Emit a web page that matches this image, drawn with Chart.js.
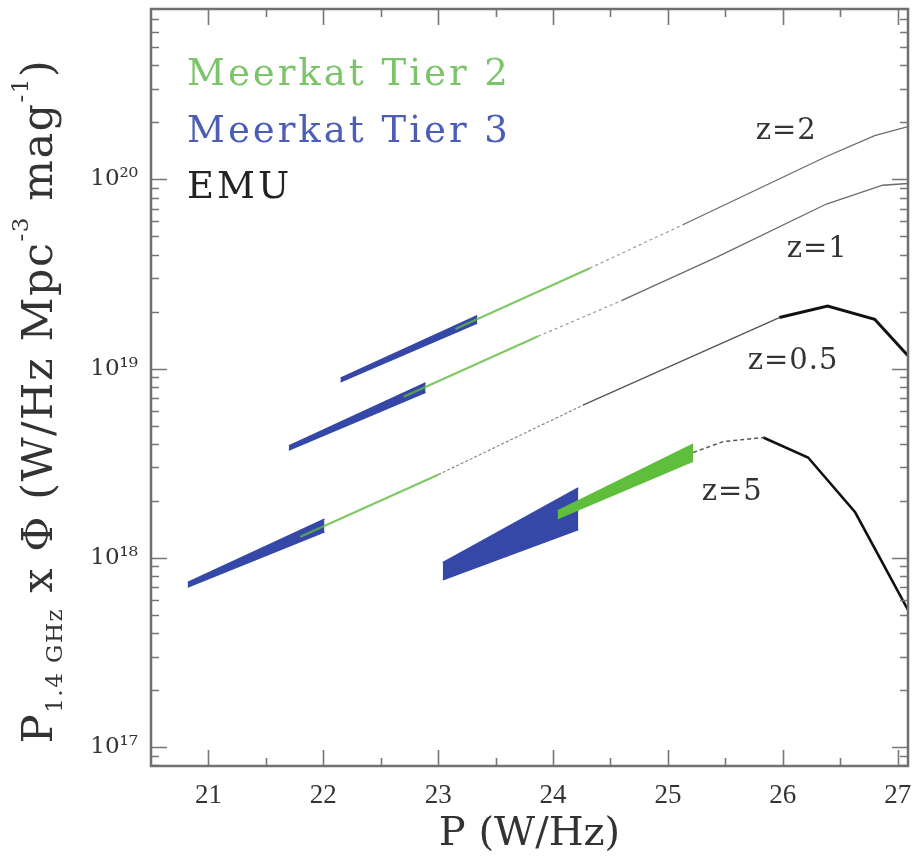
<!DOCTYPE html>
<html lang="en">
<head>
<meta charset="UTF-8" />
<title>P x Phi vs P</title>
<style>
  html, body { margin: 0; padding: 0; background: #fff; }
  canvas { display: block; }
</style>
</head>
<body>
<canvas id="myChart" width="913" height="867"></canvas>
<script src="https://cdn.jsdelivr.net/npm/chart.js@4/dist/chart.umd.min.js"></script>
<script>
// axis ticks
const xTicks = [21, 22, 23, 24, 25, 26, 27];
const yTicks = [1e17, 1e18, 1e19, 1e20];

// z = 2
const z2T3P = [22.15, 23.34];
const z2T3Lo = [8.5e18, 1.74e19];
const z2T3Hi = [8.9e18, 1.9e19];
const z2T2P = [23.15, 24.32];
const z2T2 = [1.62e19, 3.39e19];
const z2DashP = [24.32, 25.13];
const z2Dash = [3.39e19, 5.75e19];
const z2EmuP = [25.13, 26.38, 26.8, 27.09];
const z2Emu = [5.75e19, 1.32e20, 1.7e20, 1.9e20];

// z = 1
const z1T3P = [21.7, 22.89];
const z1T3Lo = [3.71e18, 7.5e18];
const z1T3Hi = [3.9e18, 8.4e18];
const z1T2P = [22.7, 23.87];
const z1T2 = [7.1e18, 1.48e19];
const z1DashP = [23.87, 24.6];
const z1Dash = [1.48e19, 2.29e19];
const z1EmuP = [24.6, 25.43, 26.38, 26.87, 27.09];
const z1Emu = [2.29e19, 3.89e19, 7.4e19, 9.3e19, 9.5e19];

// z = 0.5
const z05T3P = [20.82, 22.01];
const z05T3Lo = [7.0e17, 1.37e18];
const z05T3Hi = [7.4e17, 1.6e18];
const z05T2P = [21.8, 23.0];
const z05T2 = [1.29e18, 2.75e18];
const z05DashP = [23.0, 24.26];
const z05Dash = [2.75e18, 6.4e18];
const z05EmuP = [24.26, 25.97];
const z05Emu = [6.4e18, 1.86e19];
const z05BoldP = [25.97, 26.39, 26.8, 27.09];
const z05Bold = [1.86e19, 2.14e19, 1.82e19, 1.17e19];

// z = 5
const z5T3P = [23.04, 24.22];
const z5T3Lo = [7.66e17, 1.41e18];
const z5T3Hi = [9.42e17, 2.34e18];
const z5T2P = [24.04, 25.22];
const z5T2Lo = [1.61e18, 3.24e18];
const z5T2Hi = [1.77e18, 3.99e18];
const z5DashP = [25.22, 25.48, 25.83];
const z5Dash = [3.6e18, 4.11e18, 4.32e18];
const z5EmuP = [25.83, 26.22, 26.63, 27.09];
const z5Emu = [4.32e18, 3.39e18, 1.74e18, 5.3e17];

// curve labels
const zLabels = ["z=2", "z=1", "z=0.5", "z=5"];
const zLabelP = [26.03, 26.3, 26.09, 25.56];
const zLabelV = [1.78e20, 4.27e19, 1.09e19, 2.21e18];

const legendLabels = ["Meerkat Tier 2", "Meerkat Tier 3", "EMU"];

const GREEN = "rgba(96, 186, 62, 0.8)";
const GREEN_BAND = "#5fbf3c";
const BLUE = "#3548a8";
const GRAY = "#6a6a6a";

const pts = (xs, ys) => xs.map((x, i) => ({ x: x, y: ys[i] }));

function band(xs, lo, hi, color, order) {
  return [
    { data: pts(xs, lo), borderColor: color, borderWidth: 1.5, fill: false, order: order },
    { data: pts(xs, hi), borderColor: color, borderWidth: 1.5, backgroundColor: color, fill: "-1", order: order }
  ];
}
function line(xs, ys, color, width, dash, order) {
  return { data: pts(xs, ys), borderColor: color, borderWidth: width, borderDash: dash || [], fill: false, order: order };
}

const datasets = [].concat(
  band(z2T3P, z2T3Lo, z2T3Hi, BLUE, 2),
  [line(z2T2P, z2T2, GREEN, 2.2, null, 1)],
  [line(z2DashP, z2Dash, "#9a9a9a", 1.2, [3, 3], 3)],
  [line(z2EmuP, z2Emu, GRAY, 1.3, null, 3)],

  band(z1T3P, z1T3Lo, z1T3Hi, BLUE, 2),
  [line(z1T2P, z1T2, GREEN, 2.2, null, 1)],
  [line(z1DashP, z1Dash, "#9a9a9a", 1.2, [3, 3], 3)],
  [line(z1EmuP, z1Emu, GRAY, 1.3, null, 3)],

  band(z05T3P, z05T3Lo, z05T3Hi, BLUE, 2),
  [line(z05T2P, z05T2, GREEN, 2.2, null, 1)],
  [line(z05DashP, z05Dash, "#8a8a8a", 1.2, [3, 2], 3)],
  [line(z05EmuP, z05Emu, "#555", 1.4, null, 3)],
  [line(z05BoldP, z05Bold, "#111", 3, null, 3)],

  band(z5T3P, z5T3Lo, z5T3Hi, BLUE, 2),
  band(z5T2P, z5T2Lo, z5T2Hi, GREEN_BAND, 1),
  [line(z5DashP, z5Dash, "#555", 1.5, [4, 3], 3)],
  [line(z5EmuP, z5Emu, "#111", 2.6, null, 3)]
);

const SUP = { "0": "\u2070", "1": "\u00b9", "2": "\u00b2", "3": "\u00b3", "4": "\u2074", "5": "\u2075", "6": "\u2076", "7": "\u2077", "8": "\u2078", "9": "\u2079" };
const sup = n => String(n).split("").map(c => SUP[c]).join("");

// ticks on all four sides, pointing inwards, plus the frame
const frameTicks = {
  id: "frameTicks",
  afterDatasetsDraw(chart) {
    const { ctx, chartArea: a, scales: { x, y } } = chart;
    ctx.save();
    ctx.strokeStyle = "#777";
    ctx.lineWidth = 1.6;
    ctx.beginPath();
    const xt = [];
    xTicks.forEach(t => { xt.push([t, 16]); xt.push([t - 0.5, 8]); });
    xt.push([xTicks[xTicks.length - 1] + 0.5, 8]);
    xt.forEach(([v, len]) => {
      if (v <= x.min || v >= x.max) return;
      const px = Math.round(x.getPixelForValue(v)) + 0.5;
      ctx.moveTo(px, a.bottom); ctx.lineTo(px, a.bottom - len);
      ctx.moveTo(px, a.top); ctx.lineTo(px, a.top + len);
    });
    for (let d = 16; d <= 21; d++) {
      for (let m = 1; m <= 9; m++) {
        const v = m * Math.pow(10, d);
        if (v <= y.min || v >= y.max) continue;
        const len = m === 1 ? 16 : 8;
        const py = Math.round(y.getPixelForValue(v)) + 0.5;
        ctx.moveTo(a.left, py); ctx.lineTo(a.left + len, py);
        ctx.moveTo(a.right, py); ctx.lineTo(a.right - len, py);
      }
    }
    ctx.stroke();
    ctx.lineWidth = 2.5;
    ctx.strokeStyle = "#707070";
    ctx.strokeRect(a.left, a.top, a.right - a.left, a.bottom - a.top);
    ctx.restore();
  }
};

// legend, curve labels and the y axis title with sub/superscripts
const texts = {
  id: "texts",
  afterDraw(chart) {
    const { ctx, chartArea: a, scales: { x, y } } = chart;
    ctx.save();
    ctx.textBaseline = "alphabetic";
    ctx.textAlign = "left";
    ctx.font = "37px 'DejaVu Serif'";
    ctx.letterSpacing = "3px";
    const legendColors = ["#7cc46a", "#4b5db6", "#222"];
    legendLabels.forEach((t, i) => {
      ctx.fillStyle = legendColors[i];
      ctx.fillText(t, a.left + 36, a.top + 76 + i * 56.5);
    });

    ctx.letterSpacing = "1px";
    ctx.font = "29px 'DejaVu Serif'";
    ctx.fillStyle = "#333";
    ctx.textAlign = "center";
    ctx.textBaseline = "middle";
    zLabels.forEach((t, i) => {
      ctx.fillText(t, x.getPixelForValue(zLabelP[i]), y.getPixelForValue(zLabelV[i]));
    });

    // y title
    ctx.letterSpacing = "1.5px";
    ctx.textAlign = "left";
    ctx.textBaseline = "alphabetic";
    const big = 43, small = 23;
    const parts = [
      { t: "P", s: big, dy: 0 },
      { t: "1.4 GHz", s: small, dy: 10 },
      { t: " x \u03a6 (W/Hz Mpc", s: big, dy: 0 },
      { t: "-3", s: small, dy: -24 },
      { t: " mag", s: big, dy: 0 },
      { t: "-1", s: small, dy: -24 },
      { t: ")", s: big, dy: 0 }
    ];
    let total = 0;
    parts.forEach(p => { ctx.font = p.s + "px 'DejaVu Serif'"; p.w = ctx.measureText(p.t).width; total += p.w; });
    ctx.translate(52, 401);
    ctx.rotate(-Math.PI / 2);
    ctx.fillStyle = "#333";
    let cx = -total / 2;
    parts.forEach(p => {
      ctx.font = p.s + "px 'DejaVu Serif'";
      ctx.fillText(p.t, cx, p.dy);
      cx += p.w;
    });
    ctx.restore();
  }
};

const ctx = document.getElementById("myChart").getContext("2d");
new Chart(ctx, {
  type: "line",
  data: { datasets: datasets },
  options: {
    responsive: false,
    animation: false,
    devicePixelRatio: 1,
    elements: { point: { radius: 0 }, line: { tension: 0, borderCapStyle: "butt" } },
    layout: { padding: { top: 9, right: 5, left: 0, bottom: 0 } },
    plugins: { legend: { display: false }, tooltip: { enabled: false } },
    scales: {
      x: {
        type: "linear",
        min: 20.5,
        max: 27.09,
        afterBuildTicks: s => { s.ticks = xTicks.map(v => ({ value: v })); },
        afterFit: s => { s.height = 101; s.paddingLeft = 0; s.paddingRight = 0; },
        grid: { display: false, drawTicks: false },
        border: { display: false },
        ticks: {
          font: { family: "Liberation Serif", size: 27 },
          color: "#333",
          padding: 14,
          maxRotation: 0,
          autoSkip: false
        },
        title: {
          display: true,
          text: "P (W/Hz)",
          font: { family: "DejaVu Serif", size: 40 },
          color: "#333",
          padding: { top: 0, bottom: 8 }
        }
      },
      y: {
        type: "logarithmic",
        min: 7.94e16,
        max: 7.94e20,
        afterBuildTicks: s => { s.ticks = yTicks.map(v => ({ value: v })); },
        afterFit: s => { s.width = 151; s.paddingTop = 0; s.paddingBottom = 0; },
        grid: { display: false, drawTicks: false },
        border: { display: false },
        ticks: {
          font: { family: "DejaVu Serif", size: 23 },
          color: "#333",
          padding: 13,
          callback: v => "10" + sup(Math.round(Math.log10(v)))
        }
      }
    }
  },
  plugins: [frameTicks, texts]
});
</script>
</body>
</html>
